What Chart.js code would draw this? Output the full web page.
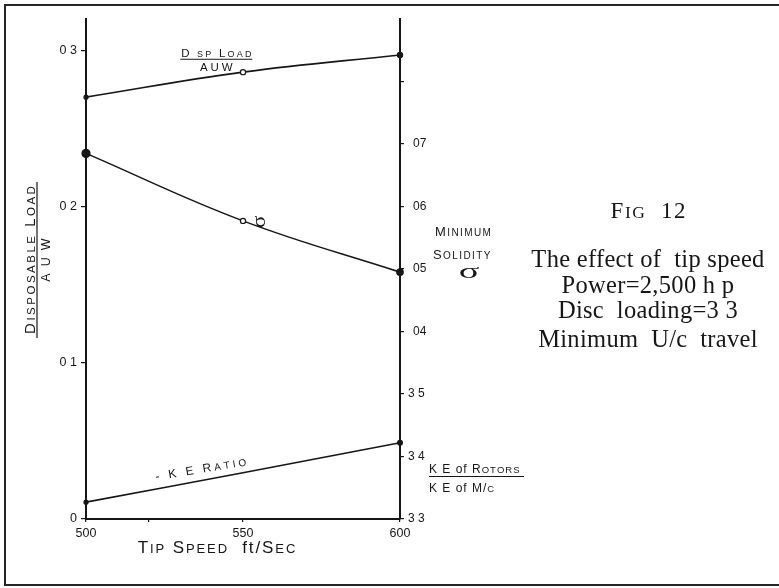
<!DOCTYPE html>
<html>
<head>
<meta charset="utf-8">
<title>Fig 12 – The effect of tip speed</title>
<style>
  html, body { margin: 0; padding: 0; background: #fff; }
  canvas { display: block; }
</style>
<script src="https://cdn.jsdelivr.net/npm/chart.js@4"></script>
</head>
<body>
<canvas id="fig" width="779" height="588"></canvas>
<script>
// Tip speed (ft/sec) at which each case was worked out
const tipSpeed = [500, 550, 600];
// Disposable load as a fraction of all-up weight (left scale)
const dispLoadRatio = [0.270, 0.286, 0.297];
// Minimum rotor solidity (right scale)
const minSolidity = [0.0685, 0.0577, 0.0495];
// Kinetic energy of rotors / kinetic energy of machine (right scale)
const keRatio = [3.327, 3.374, 3.422];

// Tick positions and their lettering
const xTicks = [500, 520, 550, 600];
const xTickLabels = ['500', '', '550', '600'];
const loadTicks = [0, 0.1, 0.2, 0.3];
const loadTickLabels = ['0', '0 1', '0 2', '0 3'];
const solidityTicks = [0.04, 0.05, 0.06, 0.07, 0.08];
const solidityTickLabels = ['04', '05', '06', '07', ''];
const keTicks = [3.3, 3.4, 3.5];
const keTickLabels = ['3 3', '3 4', '3 5'];

// Caption beside the graph
const captionLines = ['The effect of  tip speed', 'Power=2,500 h p', 'Disc  loading=3 3', 'Minimum  U/c  travel'];

const INK = '#161616';
const SANS = '"Liberation Sans", Arial, sans-serif';
const SERIF = '"Liberation Serif", "Times New Roman", serif';
const RIGHT_AXIS_WIDTH = 379;

// ---- small-capital lettering helpers ----
// Lower-case letters are drawn as small capitals; text between underscores
// is kept as written (e.g. "ft", "of").
function capsRuns(str) {
  const out = [];
  let literal = false;
  for (const ch of str) {
    if (ch === '_') { literal = !literal; continue; }
    const lower = ch !== ch.toUpperCase();
    if (literal) out.push({ ch, small: false });
    else out.push({ ch: ch.toUpperCase(), small: lower });
  }
  return out;
}
function capsFont(r, o) {
  return `${r.small ? o.small : o.big}px ${o.family || SANS}`;
}
function measureCaps(ctx, str, o) {
  const runs = capsRuns(str);
  let w = 0;
  runs.forEach((r, i) => {
    ctx.font = capsFont(r, o);
    w += ctx.measureText(r.ch).width + (i < runs.length - 1 ? (o.track || 0) : 0);
  });
  return w;
}
function drawCaps(ctx, str, x, y, o) {
  const runs = capsRuns(str);
  const w = measureCaps(ctx, str, o);
  let cx = o.align === 'center' ? x - w / 2 : (o.align === 'right' ? x - w : x);
  ctx.textAlign = 'left';
  ctx.textBaseline = 'alphabetic';
  ctx.fillStyle = INK;
  runs.forEach(r => {
    ctx.font = capsFont(r, o);
    ctx.fillText(r.ch, cx, y);
    cx += ctx.measureText(r.ch).width + (o.track || 0);
  });
  return w;
}
function rule(ctx, x1, y1, x2, y2, w) {
  ctx.strokeStyle = INK;
  ctx.lineWidth = w || 1.2;
  ctx.beginPath();
  ctx.moveTo(x1, y1);
  ctx.lineTo(x2, y2);
  ctx.stroke();
}

const lettering = {
  id: 'lettering',
  afterLayout(chart) {
    // both right-hand scales share the same axis line at x = 600
    const s = chart.scales.yKE;
    s.right = s.left + RIGHT_AXIS_WIDTH;
    s.width = RIGHT_AXIS_WIDTH;
  },
  beforeDraw(chart) {
    const { ctx, width, height } = chart;
    ctx.save();
    ctx.fillStyle = '#fff';
    ctx.fillRect(0, 0, width, height);
    ctx.restore();
  },
  afterDraw(chart) {
    const { ctx, scales } = chart;
    const sx = scales.x, sy = scales.y, sSol = scales.ySol, sKE = scales.yKE;
    ctx.save();

    // page frame (open on the right)
    ctx.strokeStyle = '#262626';
    ctx.lineWidth = 2;
    ctx.beginPath();
    ctx.moveTo(779, 5); ctx.lineTo(5, 5); ctx.lineTo(5, 585); ctx.lineTo(779, 585);
    ctx.stroke();

    // left axis title, written upwards as a fraction
    const midY = (sy.top + sy.bottom) / 2 - 9;
    ctx.save();
    ctx.translate(0, midY);
    ctx.rotate(-Math.PI / 2);
    drawCaps(ctx, 'Disposable Load', 0, 35, { big: 15, small: 11.5, track: 2.5, align: 'center' });
    rule(ctx, -78, 37, 78, 37, 1.2);
    drawCaps(ctx, 'A U W', 0, 50, { big: 12.5, small: 12.5, track: 1.8, align: 'center' });
    ctx.restore();

    // x axis title
    drawCaps(ctx, 'Tip Speed  _ft/_Sec', (sx.left + sx.getPixelForValue(550)) / 2 + 52, 553,
      { big: 17, small: 13, track: 1.9, align: 'center' });

    // label on the disposable-load curve
    const dlx = sx.getPixelForValue(541.5);
    const dly = sy.getPixelForValue(0.3);
    drawCaps(ctx, 'D sp Load', dlx, dly + 7, { big: 11.5, small: 9, track: 2.2, align: 'center' });
    rule(ctx, dlx - 36, dly + 9, dlx + 36, dly + 9, 1);
    drawCaps(ctx, 'AUW', dlx, dly + 21, { big: 11.5, small: 11.5, track: 2.8, align: 'center' });

    // sigma beside the solidity curve
    ctx.save();
    ctx.translate(sx.getPixelForValue(555.5), sSol.getPixelForValue(0.0577) + 1);
    ctx.rotate(-Math.PI / 2);
    ctx.scale(1.2, 1);
    ctx.font = `19px ${SERIF}`;
    ctx.fillStyle = INK;
    ctx.textAlign = 'center';
    ctx.textBaseline = 'middle';
    ctx.fillText('σ', 0, 0);
    ctx.restore();

    // label along the KE-ratio line
    ctx.save();
    ctx.translate(sx.getPixelForValue(536.5), sKE.getPixelForValue(3.3) - 50);
    ctx.rotate(-9.5 * Math.PI / 180);
    drawCaps(ctx, '- K E Ratio', 0, 4, { big: 12, small: 10, track: 3, align: 'center' });
    ctx.restore();

    // right axis titles
    const rx = sSol.left;
    drawCaps(ctx, 'Minimum', rx + 35, sSol.getPixelForValue(0.0553), { big: 13, small: 10, track: 1.4 });
    drawCaps(ctx, 'Solidity', rx + 33, sSol.getPixelForValue(0.0516), { big: 13, small: 10, track: 1.4 });
    ctx.save();
    ctx.translate(rx + 69, sSol.getPixelForValue(0.0494));
    ctx.scale(1.6, 0.85);
    ctx.font = `24px ${SERIF}`;
    ctx.fillStyle = INK;
    ctx.textAlign = 'center';
    ctx.textBaseline = 'middle';
    ctx.fillText('σ', 0, 0);
    ctx.restore();

    const kx = sKE.left + 29;
    const ky = sKE.getPixelForValue(3.3) - 46;
    drawCaps(ctx, 'K E _of_ Rotors', kx, ky, { big: 12, small: 9.5, track: 1 });
    rule(ctx, kx, ky + 3.5, kx + 95, ky + 3.5, 1.1);
    drawCaps(ctx, 'K E _of_ M/c', kx, ky + 19, { big: 12, small: 9.5, track: 1 });

    // caption
    const cx = 648;
    ctx.fillStyle = INK;
    ctx.textBaseline = 'alphabetic';
    drawCaps(ctx, 'Fig  12', cx, 218, { big: 23, small: 17.5, track: 1.5, align: 'center', family: SERIF });
    ctx.textAlign = 'center';
    ctx.font = `24.5px ${SERIF}`;
    if ('letterSpacing' in ctx) ctx.letterSpacing = '0.3px';
    const baselines = [267, 293, 318, 347];
    captionLines.forEach((t, i) => ctx.fillText(t, cx, baselines[i]));

    ctx.restore();
  }
};

const pointsOf = (ys) => tipSpeed.map((x, i) => ({ x, y: ys[i] }));

const lineStyle = {
  borderColor: INK,
  borderWidth: 1.6,
  tension: 0.4,
  pointBorderColor: INK,
  pointBorderWidth: 1.2,
  clip: false,
  fill: false
};

new Chart(document.getElementById('fig'), {
  type: 'line',
  data: {
    datasets: [
      Object.assign({
        label: 'Disp Load / AUW',
        data: pointsOf(dispLoadRatio),
        yAxisID: 'y',
        pointRadius: [2, 2.6, 2.6],
        pointBackgroundColor: [INK, '#fff', INK]
      }, lineStyle),
      Object.assign({
        label: 'Minimum solidity',
        data: pointsOf(minSolidity),
        yAxisID: 'ySol',
        pointRadius: [4, 2.6, 3.2],
        pointBackgroundColor: [INK, '#fff', INK]
      }, lineStyle),
      Object.assign({
        label: 'KE of rotors / KE of M/c',
        data: pointsOf(keRatio),
        yAxisID: 'yKE',
        pointRadius: [2, 0, 2.4],
        pointBackgroundColor: [INK, INK, INK]
      }, lineStyle)
    ]
  },
  options: {
    responsive: false,
    animation: false,
    devicePixelRatio: 1,
    layout: { padding: { top: 19, left: 0, right: 0, bottom: 0 } },
    plugins: {
      legend: { display: false },
      tooltip: { enabled: false },
      title: { display: false }
    },
    scales: {
      x: {
        type: 'linear',
        min: 500,
        max: 600,
        afterFit: s => { s.height = 69; },
        afterBuildTicks: s => { s.ticks = xTicks.map(v => ({ value: v })); },
        ticks: {
          autoSkip: false,
          maxRotation: 0,
          padding: 4,
          color: INK,
          font: { family: SANS, size: 12.5 },
          callback: (v, i) => xTickLabels[i]
        },
        grid: { drawOnChartArea: false, tickLength: 3, color: INK, lineWidth: 1.2 },
        border: { color: INK, width: 2 }
      },
      y: {
        position: 'left',
        min: 0,
        max: 0.32,
        afterFit: s => { s.width = 86; },
        afterBuildTicks: s => { s.ticks = loadTicks.map(v => ({ value: v })); },
        ticks: {
          autoSkip: false,
          padding: 4,
          color: INK,
          font: { family: SANS, size: 12.5 },
          callback: (v, i) => loadTickLabels[i]
        },
        grid: { drawOnChartArea: false, tickLength: 5, color: INK, lineWidth: 1.2 },
        border: { color: INK, width: 2 }
      },
      yKE: {
        position: 'right',
        weight: 0,
        min: 3.3,
        max: 4.1,
        afterFit: s => { s.width = 0; },
        afterBuildTicks: s => { s.ticks = keTicks.map(v => ({ value: v })); },
        ticks: {
          autoSkip: false,
          padding: 4,
          color: INK,
          font: { family: SANS, size: 12 },
          callback: (v, i) => keTickLabels[i]
        },
        grid: { drawOnChartArea: false, tickLength: 4, color: INK, lineWidth: 1.2 },
        border: { color: INK, width: 2 }
      },
      ySol: {
        position: 'right',
        weight: 1,
        min: 0.01,
        max: 0.09,
        afterFit: s => { s.width = RIGHT_AXIS_WIDTH; },
        afterBuildTicks: s => { s.ticks = solidityTicks.map(v => ({ value: v })); },
        ticks: {
          autoSkip: false,
          padding: 9,
          color: INK,
          font: { family: SANS, size: 12 },
          callback: (v, i) => solidityTickLabels[i]
        },
        grid: { drawOnChartArea: false, tickLength: 4, color: INK, lineWidth: 1.2 },
        border: { color: INK, width: 2 }
      }
    }
  },
  plugins: [lettering]
});
</script>
</body>
</html>
